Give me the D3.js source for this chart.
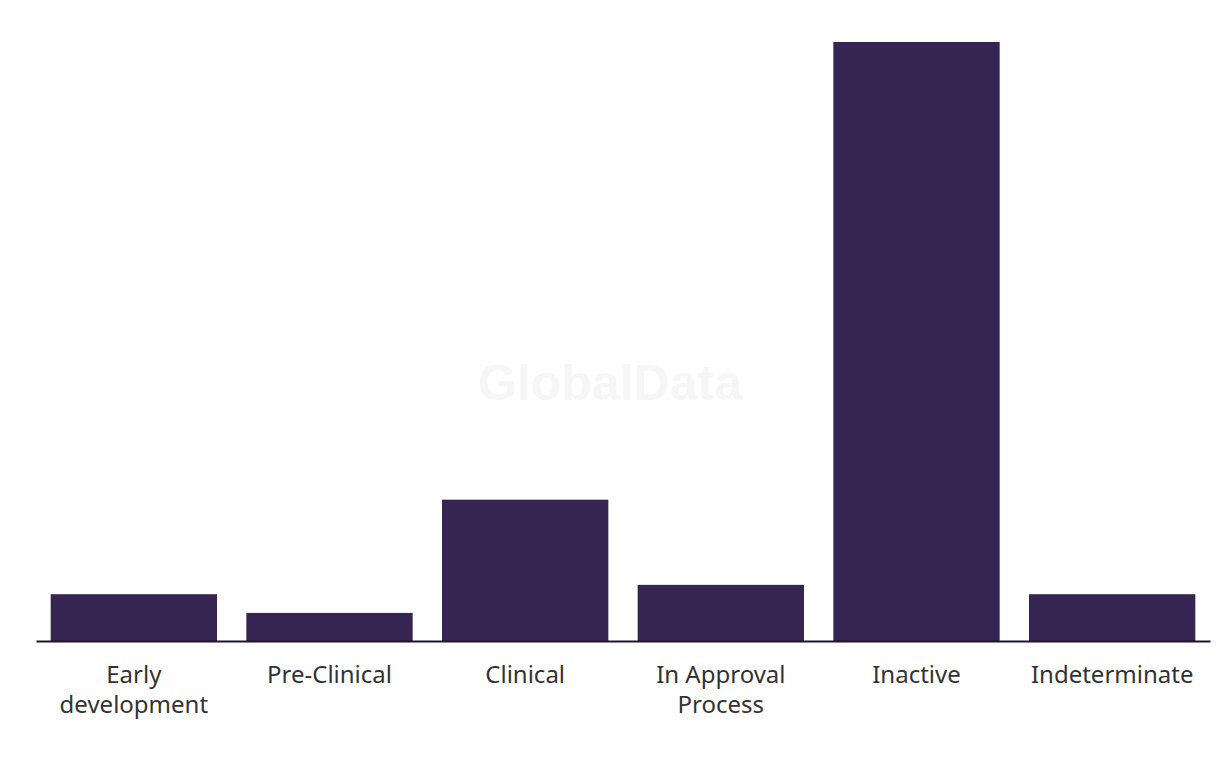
<!DOCTYPE html>
<html>
<head>
<meta charset="utf-8">
<script src="https://d3js.org/d3.v7.min.js"></script>
<style>
body{
  margin:0;
  background:#fff;
}
svg{
  display:block;
}
.x-axis .tick line{
  visibility:hidden;
}
.x-axis text{
  font-family:"Noto Sans", sans-serif;
  font-size:24px;
  fill:#333333;
}
</style>
</head>
<body>
<div id="chart"></div>
<script>
const categories = ["Early development", "Pre-Clinical", "Clinical", "In Approval Process", "Inactive", "Indeterminate"];
const labelLines = [["Early", "development"], ["Pre-Clinical"], ["Clinical"], ["In Approval", "Process"], ["Inactive"], ["Indeterminate"]];
const values = [5, 3, 15.1, 6, 64, 5];

let width = 1220,
    height = 766,
    margin = {top: 42, right: 10, bottom: 125, left: 36};

let svg = d3.select("#chart")
  .append("svg")
    .attr("width", width)
    .attr("height", height);

// watermark
svg.append("text")
  .attr("x", 610)
  .attr("y", 400)
  .attr("text-anchor", "middle")
  .attr("font-family", "Liberation Sans, Arial, sans-serif")
  .attr("font-weight", "bold")
  .attr("font-size", "50px")
  .attr("fill", "#f6f6f6")
  .text("GlobalData");

let x = d3.scaleBand()
  .domain(categories)
  .range([margin.left, width - margin.right])
  .paddingInner(0.15)
  .paddingOuter(0.075);

let y = d3.scaleLinear()
  .domain([0, d3.max(values)])
  .range([height - margin.bottom, margin.top]);

svg.selectAll("rect.bar")
  .data(categories)
  .join("rect")
    .attr("class", "bar")
    .attr("x", d => x(d))
    .attr("width", x.bandwidth())
    .attr("y", (d, i) => y(values[i]))
    .attr("height", (d, i) => y(0) - y(values[i]))
    .attr("fill", "#362552");

let xAxis = svg.append("g")
  .attr("class", "x-axis")
  .attr("transform", "translate(0," + y(0) + ")")
  .call(d3.axisBottom(x).tickSize(0).tickSizeOuter(0));

xAxis.select(".domain")
  .attr("stroke", "#1c1628")
  .attr("stroke-width", 2);

// two-line labels as separate text elements
xAxis.selectAll(".tick text").remove();
xAxis.selectAll(".tick").each(function(d, i){
  let g = d3.select(this);
  labelLines[i].forEach((line, j) => {
    g.append("text")
      .attr("x", 0)
      .attr("y", 42 + j * 30)
      .attr("text-anchor", "middle")
      .text(line);
  });
});
</script>
</body>
</html>
